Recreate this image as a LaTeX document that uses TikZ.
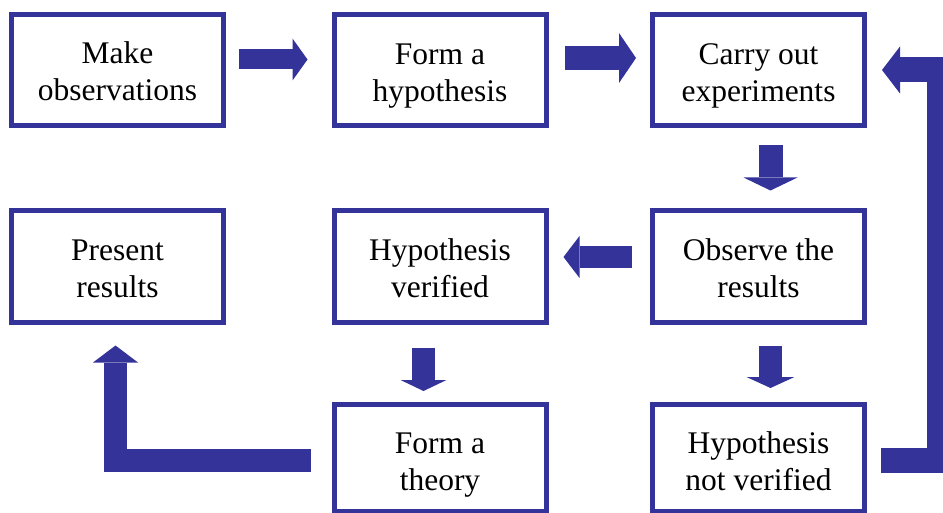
\documentclass[tikz,border=0pt]{standalone}
\usepackage{fontspec}
\setmainfont{Liberation Serif}
\usetikzlibrary{arrows.meta,calc}
\definecolor{flowblue}{RGB}{51,51,153}
\newcommand{\boxtext}[2][0pt]{\raisebox{#1}[\height][\depth]{\begin{tabular}{@{}c@{}}#2\end{tabular}}}
\begin{document}
\begin{tikzpicture}[x=1pt,y=-1pt,
  box/.style={draw=flowblue, line width=5pt, fill=white, minimum width=212pt, minimum height=111pt,
    inner sep=0pt, font=\fontsize{31.5}{37}\selectfont},
  blk/.style={draw=flowblue, line width=24pt, line join=miter,
    -{Triangle[width=50pt,length=17pt,line width=0pt]}},
]
\useasboundingbox (0,0) rectangle (943,513);
\clip (0,0) rectangle (943,513);
\node[box] (b1) at (117.5,70) {\boxtext[-5pt]{Make\\observations}};
\node[box] (b2) at (440,70) {\boxtext[-5.5pt]{Form a\\hypothesis}};
\node[box] (b3) at (758.5,70) {\boxtext[-5.5pt]{Carry out\\experiments}};
\node[box] (b4) at (117.5,266.5) {\boxtext[-5pt]{Present\\results}};
\node[box] (b5) at (440,266.5) {\boxtext[-5pt]{Hypothesis\\verified}};
\node[box] (b6) at (758.5,266.5) {\boxtext[-5pt]{Observe the\\results}};
\node[box, minimum height=107pt] (b7) at (440,458) {\boxtext[-7pt]{Form a\\theory}};
\node[box, minimum height=107pt] (b8) at (758.5,458) {\boxtext[-7pt]{Hypothesis\\not verified}};
% arrows
\draw[blk, line width=20pt, -{Triangle[width=42pt,length=15pt,line width=0pt]}]
  ($(b1.east)+(13,-10.5)$) -- ($(b2.west)+(-24,-10.5)$);
\draw[blk] ($(b2.east)+(16,-12)$) -- ($(b3.west)+(-14,-12)$);
\draw[blk, -{Triangle[width=54pt,length=13pt,line width=0pt]}]
  ($(b3.south)+(12,17)$) -- ($(b6.north)+(12,-18)$);
\draw[blk, line width=22pt, -{Triangle[width=42pt,length=16pt,line width=0pt]}]
  ($(b6.west)+(-18,-9.5)$) -- ($(b5.east)+(15,-9.5)$);
\draw[blk, line width=23pt, -{Triangle[width=48pt,length=11pt,line width=0pt]}]
  ($(b6.south)+(12,21)$) -- ($(b8.north)+(12,-14)$);
\draw[blk, line width=23pt, -{Triangle[width=46pt,length=11pt,line width=0pt]}]
  ($(b5.south)+(-16.5,23)$) -- ($(b7.north)+(-16.5,-11)$);
\coordinate (l1) at (115.5,460.5);
\draw[blk, line width=23pt, -{Triangle[width=45pt,length=17pt,line width=0pt]}]
  ($(b7.west)+(-21,2.5)$) -- (l1) -- ($(b4.south)+(-2,21)$);
\coordinate (r1) at (939.5,460.5);
\coordinate (r2) at (939.5,70);
\draw[blk, line width=25pt, -{Triangle[width=47pt,length=18pt,line width=0pt]}]
  ($(b8.east)+(14,2.5)$) -- (r1) -- (r2) -- ($(b3.east)+(15,0)$);
\end{tikzpicture}
\end{document}
